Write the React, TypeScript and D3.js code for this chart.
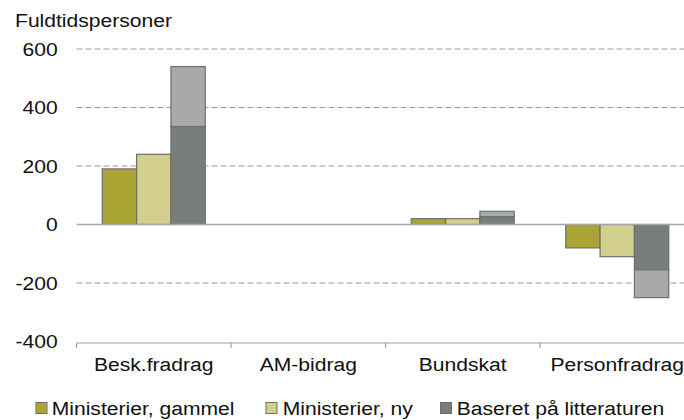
import React from "react";
import * as d3 from "d3";

const categories = ["Besk.fradrag", "AM-bidrag", "Bundskat", "Personfradrag"];
const seriesNames = ["Ministerier, gammel", "Ministerier, ny", "Baseret på litteraturen"];
const gammel = [190, 0, 20, -80];
const ny = [240, 0, 20, -110];
// litteratur: lower (dark) part and full (light) extent
const litteraturLow = [335, 0, 27, -155];
const litteraturHigh = [540, 0, 45, -250];
const yTicks = [600, 400, 200, 0, -200, -400];

const colors = {
  gammel: "#aaa434",
  ny: "#d3cf8d",
  dark: "#7a7d7e",
  light: "#a8a9ab",
};
const stroke = "#6e6e6e";
const FONT = "'Liberation Sans', Arial, sans-serif";
const SX = 1.11; // glyphs in the original are a bit wide

const W = 684;
const H = 420;
const left = 76.5;
const bandW = 154.5;

export default function App() {
  const x = d3
    .scaleBand<string>()
    .domain(categories)
    .range([left, left + bandW * categories.length])
    .padding(0);
  const bw = x.bandwidth();
  const inner = d3
    .scaleBand<string>()
    .domain(seriesNames)
    .range([bw / 6, (bw * 5) / 6])
    .padding(0);
  const y = d3.scaleLinear().domain([-400, 600]).range([341.5, 49]);

  const bar = (cat: string, s: string, v0: number, v1: number, fill: string, key: string) => {
    const top = y(Math.max(v0, v1));
    const h = Math.abs(y(v0) - y(v1));
    if (h <= 0) return null;
    return (
      <rect
        key={key}
        x={(x(cat) ?? 0) + (inner(s) ?? 0)}
        y={top}
        width={inner.bandwidth()}
        height={h}
        fill={fill}
        stroke={stroke}
        strokeWidth={1.2}
      />
    );
  };

  const txt = (s: string, tx: number, ty: number, anchor: string, key?: string) => (
    <text
      key={key}
      transform={`translate(${tx},${ty}) scale(${SX},1)`}
      textAnchor={anchor}
      fontFamily={FONT}
      fontSize={19}
      fill="#111"
    >
      {s}
    </text>
  );

  const legendItems = [
    { name: seriesNames[0], color: colors.gammel, sq: 36, tx: 51.7 },
    { name: seriesNames[1], color: colors.ny, sq: 266, tx: 282.7 },
    { name: seriesNames[2], color: colors.dark, sq: 440.5, tx: 456.7 },
  ];

  return (
    <svg
      width={W}
      height={H}
      style={{ position: "absolute", left: 0, top: 0, background: "#fff" }}
    >
      {txt("Fuldtidspersoner", 15, 26.7, "start")}
      {/* gridlines */}
      {yTicks
        .filter((t) => t !== 0 && t !== -400)
        .map((t) => (
          <line
            key={"g" + t}
            x1={left}
            x2={W}
            y1={y(t)}
            y2={y(t)}
            stroke="#9a9a9a"
            strokeWidth={1}
            strokeDasharray="6,3"
          />
        ))}
      {yTicks.map((t) => txt(String(t), 57.7, y(t) + 6.8, "end", "yl" + t))}
      {/* bars */}
      {categories.map((c, i) => (
        <g key={c}>
          {bar(c, seriesNames[0], 0, gammel[i], colors.gammel, "a")}
          {bar(c, seriesNames[1], 0, ny[i], colors.ny, "b")}
          {bar(c, seriesNames[2], 0, litteraturLow[i], colors.dark, "c")}
          {bar(c, seriesNames[2], litteraturLow[i], litteraturHigh[i], colors.light, "d")}
        </g>
      ))}
      {/* zero line */}
      <line x1={left} x2={W} y1={y(0)} y2={y(0)} stroke="#a6a6a6" strokeWidth={1.6} />
      {/* bottom axis */}
      <line x1={left} x2={W} y1={y(-400) + 1.5} y2={y(-400) + 1.5} stroke="#a0a0a0" strokeWidth={1.2} />
      {categories.map((c) => (
        <line
          key={"t" + c}
          x1={x(c)}
          x2={x(c)}
          y1={y(-400) + 1.5}
          y2={y(-400) + 6.5}
          stroke="#a0a0a0"
          strokeWidth={1.2}
        />
      ))}
      {categories.map((c) => txt(c, (x(c) ?? 0) + bw / 2, 371, "middle", "cl" + c))}
      {/* legend */}
      {legendItems.map((l) => (
        <g key={l.name}>
          <rect x={l.sq} y={402.5} width={11} height={11} fill={l.color} stroke={stroke} strokeWidth={1} />
          {txt(l.name, l.tx, 415, "start")}
        </g>
      ))}
    </svg>
  );
}
